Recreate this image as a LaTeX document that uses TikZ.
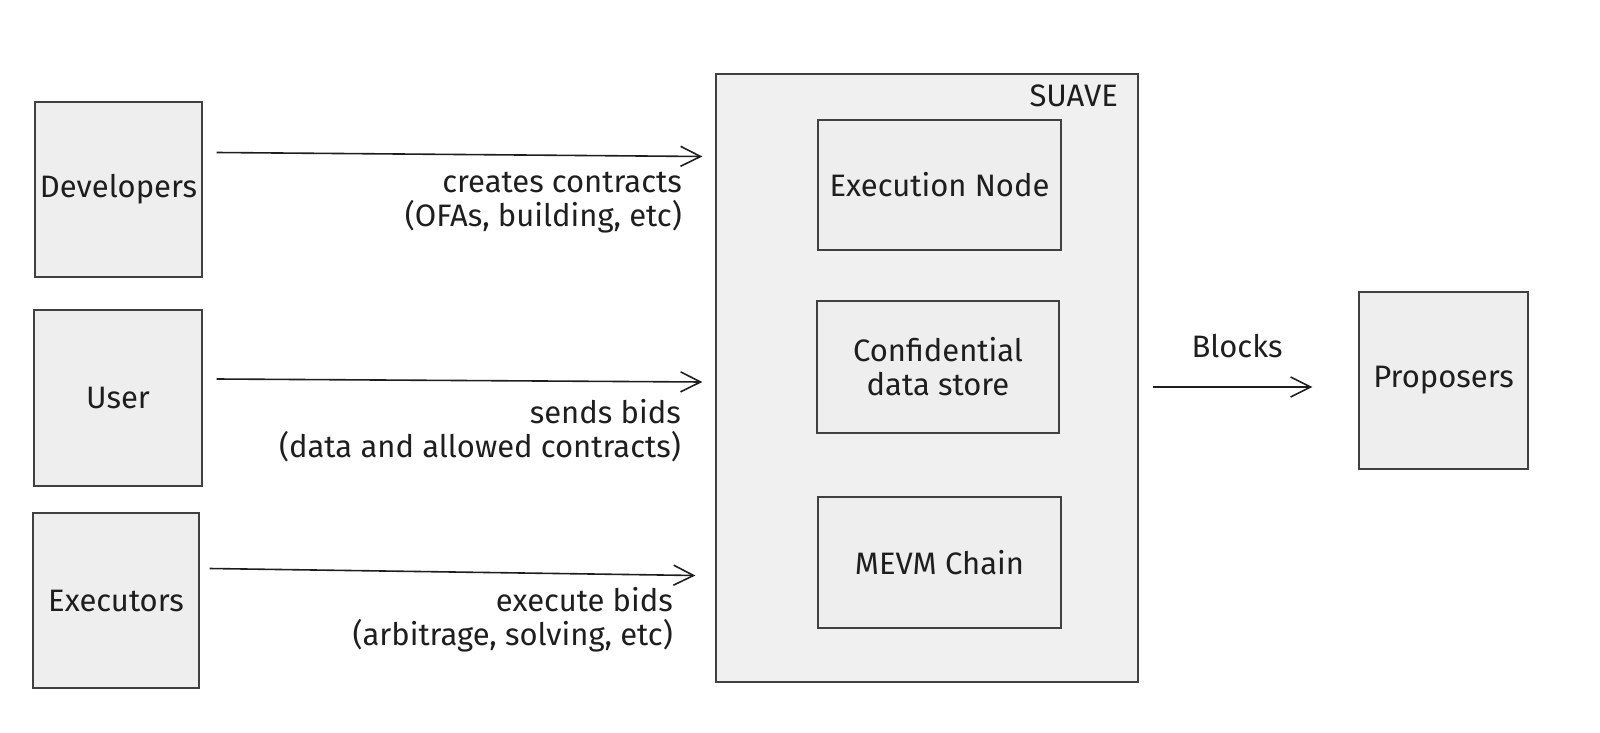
\documentclass[tikz,border=0pt]{standalone}
\usepackage{fontspec}
\setmainfont{Fira Sans}
\usetikzlibrary{arrows.meta,calc}

\definecolor{ink}{HTML}{1E1E1E}
\definecolor{boxfill}{HTML}{EEEEEE}
\definecolor{framefill}{HTML}{F0F0F0}

\tikzset{
	actor/.style={draw=ink!85, fill=boxfill, line width=1.3pt, inner sep=0pt, text=ink},
	part/.style={draw=ink!85, fill=boxfill, line width=1.3pt, inner sep=0pt, text=ink, align=center},
	lbl/.style={inner sep=0pt, text=ink, align=right},
	flow/.style={draw=ink, line width=1.6pt, -{Straight Barb[length=20pt,width=20pt,line width=1.6pt]}}
}

\begin{document}
\begin{tikzpicture}[x=1pt,y=1pt,yscale=-1,xscale=1,font=\fontsize{31}{34}\selectfont]
		% Set the picture to 1600 x 733
		\useasboundingbox (0,0) rectangle (1600,733);

		% The SUAVE frame and its label
		\node[actor, fill=framefill, minimum width=422pt, minimum height=608pt] (suave) at (927,378) {};
		\node[lbl, anchor=east] (suavelbl) at (1118,96) {SUAVE};

		% The three parts inside SUAVE
		\node[part, minimum width=243pt, minimum height=130pt] (exec) at (939.5,185) {Execution Node};
		\node[part, minimum width=242pt, minimum height=132pt] (store) at (938,367) {Confidential\\data store};
		\node[part, minimum width=243pt, minimum height=131pt] (mevm) at (939.5,562.5) {MEVM Chain};

		% The actors on the left
		\node[actor, minimum width=167pt, minimum height=175pt] (dev) at (118.5,189.5) {Developers};
		\node[actor, minimum width=168pt, minimum height=176pt] (user) at (118,398) {User};
		\node[actor, minimum width=166pt, minimum height=175pt] (execs) at (116,600.5) {Executors};

		% The proposers on the right
		\node[actor, minimum width=169pt, minimum height=177pt] (prop) at (1443.5,380.5) {Proposers};

		% Arrows into SUAVE
		\draw[flow] ($(dev.east)+(14,-37)$) -- ($(dev.east -| suave.west)+(-13,-33)$);
		\draw[flow] ($(user.east)+(14,-19)$) -- ($(user.east -| suave.west)+(-13,-16)$);
		\draw[flow] ($(execs.east)+(10,-32)$) -- ($(execs.east -| suave.west)+(-20,-25)$);

		% Arrow out of SUAVE
		\draw[flow] ($(suave.east)+(14,9)$) -- ($(prop.west)+(-46,6.5)$);

		% Texts under the arrows
		\node[lbl, anchor=east] (devlbl) at (682,203) {creates contracts\\(OFAs, building, etc)};
		\node[lbl, anchor=east] (userlbl) at (681,431) {sends bids\\(data and allowed contracts)};
		\node[lbl, anchor=east] (execslbl) at (673,620) {execute bids\\(arbitrage, solving, etc)};

		% Text above the arrow to the proposers
		\node[lbl] (blockslbl) at (1237,346) {Blocks};
	\end{tikzpicture}
\end{document}
